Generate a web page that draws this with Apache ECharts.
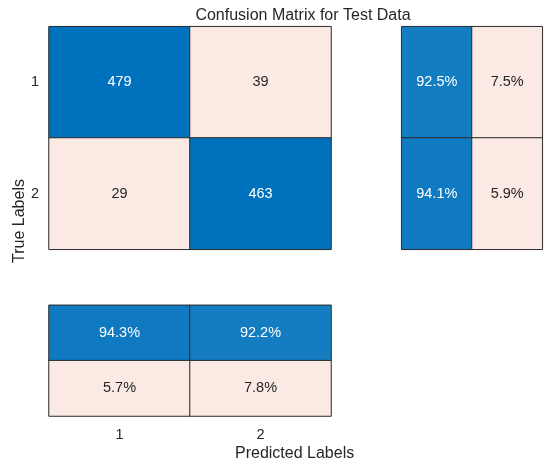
<!DOCTYPE html>
<html>
<head>
<meta charset="utf-8">
<script src="https://cdn.jsdelivr.net/npm/echarts@6/dist/echarts.min.js"></script>
<style>html,body{margin:0;padding:0;background:#fff;}#c{width:550px;height:473px;}</style>
</head>
<body>
<div id="c"></div>
<script>
const categories = ['1', '2'];
const counts = [[479, 39], [29, 463]];          // rows: true class, cols: predicted class
const rowPct = [[92.5, 7.5], [94.1, 5.9]];      // row summary: correct, incorrect
const colPct = [[94.3, 92.2], [5.7, 7.8]];      // column summary rows: correct, incorrect
const titleText = 'Confusion Matrix for Test Data';
const xLabel = 'Predicted Labels';
const yLabel = 'True Labels';

const FONT = 'Liberation Sans, Arial, Helvetica, sans-serif';
const TXT = '#262626';
const BLUE = [0, 114, 189];
const PINK = '#FBEAE3';
function mixBlue(t) {
  const c = BLUE.map(v => Math.round(255 * (1 - t) + v * t));
  return 'rgb(' + c.join(',') + ')';
}

// build heatmap data [x, y, value, good]
const mainData = [];
counts.forEach((row, i) => row.forEach((v, j) => mainData.push({ value: [j, i, v], good: i === j })));
const rowData = [];
rowPct.forEach((row, i) => row.forEach((v, j) => rowData.push({ value: [j, i, v], good: j === 0 })));
const colData = [];
colPct.forEach((row, i) => row.forEach((v, j) => colData.push({ value: [j, i, v], good: i === 0 })));

function styled(arr, pct) {
  return arr.map(d => ({
    value: d.value,
    itemStyle: { color: d.good ? (pct ? mixBlue(d.value[2] / 100) : mixBlue(1)) : PINK },
    label: { color: d.good ? '#ffffff' : TXT }
  }));
}

const chart = echarts.init(document.getElementById('c'), null, { renderer: 'canvas' });
const hiddenAxis = { show: true, axisLine: { show: false }, axisTick: { show: false }, axisLabel: { show: false }, splitLine: { show: false } };
const tickLabel = { color: TXT, fontSize: 14.5, fontFamily: FONT };

chart.setOption({
  animation: false,
  title: {
    text: titleText, left: 298, top: 3, textAlign: 'center',
    textStyle: { fontSize: 16, fontWeight: 'normal', color: TXT, fontFamily: FONT }
  },
  grid: [
    { left: 49, top: 26.7, width: 282, height: 222.6 },
    { left: 401.7, top: 26.7, width: 140.6, height: 222.6 },
    { left: 49, top: 305.3, width: 282, height: 110.7 }
  ],
  xAxis: [
    Object.assign({ type: 'category', data: categories, gridIndex: 0 }, hiddenAxis),
    Object.assign({ type: 'category', data: ['c', 'i'], gridIndex: 1 }, hiddenAxis),
    { type: 'category', data: categories, gridIndex: 2, axisLine: { show: false }, axisTick: { show: false },
      splitLine: { show: false }, axisLabel: Object.assign({ margin: 11 }, tickLabel) }
  ],
  yAxis: [
    { type: 'category', data: categories, gridIndex: 0, inverse: true, axisLine: { show: false }, axisTick: { show: false },
      splitLine: { show: false }, axisLabel: Object.assign({ margin: 10 }, tickLabel) },
    Object.assign({ type: 'category', data: categories, gridIndex: 1, inverse: true }, hiddenAxis),
    Object.assign({ type: 'category', data: ['c', 'i'], gridIndex: 2, inverse: true }, hiddenAxis)
  ],
  series: [
    { type: 'heatmap', xAxisIndex: 0, yAxisIndex: 0, data: styled(mainData, false),
      itemStyle: { borderColor: '#2b2b2b', borderWidth: 1 },
      label: { show: true, fontSize: 14.5, fontFamily: FONT, formatter: p => String(p.value[2]) } },
    { type: 'heatmap', xAxisIndex: 1, yAxisIndex: 1, data: styled(rowData, true),
      itemStyle: { borderColor: '#2b2b2b', borderWidth: 1 },
      label: { show: true, fontSize: 14.5, fontFamily: FONT, formatter: p => p.value[2].toFixed(1) + '%' } },
    { type: 'heatmap', xAxisIndex: 2, yAxisIndex: 2, data: styled(colData, true),
      itemStyle: { borderColor: '#2b2b2b', borderWidth: 1 },
      label: { show: true, fontSize: 14.5, fontFamily: FONT, formatter: p => p.value[2].toFixed(1) + '%' } }
  ],
  graphic: [
    { type: 'text', left: 235, top: 446, style: { text: xLabel, fontSize: 16, fontFamily: FONT, fill: TXT } },
    { type: 'text', x: 20, y: 221, rotation: Math.PI / 2,
      style: { text: yLabel, fontSize: 16, fontFamily: FONT, fill: TXT, textAlign: 'center', textVerticalAlign: 'middle' } }
  ]
});
</script>
</body>
</html>
